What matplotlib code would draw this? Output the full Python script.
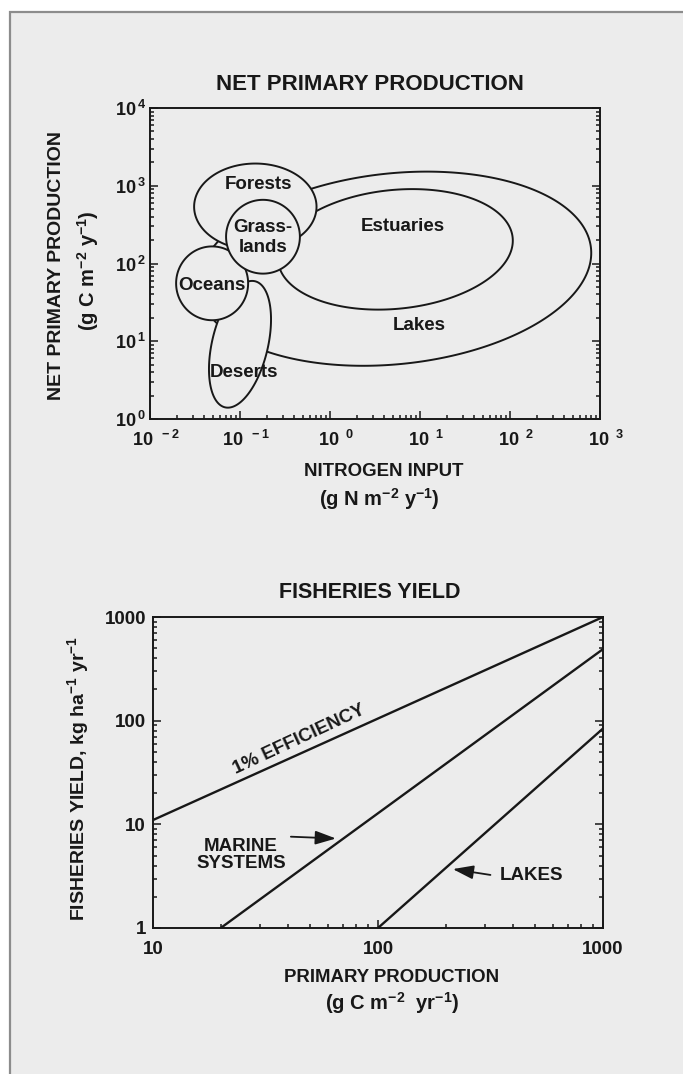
import numpy as np
import matplotlib.pyplot as plt
from matplotlib.patches import Rectangle
from matplotlib.transforms import ScaledTranslation

plt.rcParams['font.family'] = ['Liberation Sans', 'DejaVu Sans']
plt.rcParams['font.weight'] = 'bold'
plt.rcParams['mathtext.fontset'] = 'custom'
plt.rcParams['mathtext.rm'] = 'Liberation Sans:bold'
plt.rcParams['mathtext.it'] = 'Liberation Sans:bold'
plt.rcParams['mathtext.bf'] = 'Liberation Sans:bold'
plt.rcParams['mathtext.sf'] = 'Liberation Sans:bold'
plt.rcParams['mathtext.default'] = 'rm'

BG = '#ececec'
INK = '#181818'

# ---- net primary production vs nitrogen input: biome envelopes ----
biome_names = ['Lakes', 'Estuaries', 'Forests', 'Deserts', 'Oceans', 'Grasslands']
center_n = [5.27, 5.32, 0.148, 0.100, 0.049, 0.180]      # g N m-2 y-1
center_npp = [85.7, 152, 537, 9.14, 55.6, 221]           # g C m-2 y-1
half_major = [2.19, 1.31, 0.68, 0.72, 0.40, 0.41]        # decades (x units)
half_minor = [1.06, 0.66, 0.48, 0.31, 0.41, 0.41]        # decades (x units)
tilt_deg = [6, 5.7, 0, 76.6, 0, 0]

label_text = ['Lakes', 'Estuaries', 'Forests', 'Deserts', 'Oceans', 'Grass-\nlands']
label_n = [9.7, 6.5, 0.16, 0.11, 0.049, 0.18]
label_npp = [15.8, 298, 1023, 4.0, 52.8, 215]

npp_xticks = [1e-2, 1e-1, 1e0, 1e1, 1e2, 1e3]
npp_yticks = [1e0, 1e1, 1e2, 1e3, 1e4]

# ---- fisheries yield vs primary production ----
eff_pp = [10, 1000]
eff_yield = [11, 1000]
marine_pp = [20, 1000]
marine_yield = [1, 490]
lakes_pp = [100, 1000]
lakes_yield = [1, 84]

fy_xticks = [10, 100, 1000]
fy_xlabels = ['10', '100', '1000']
fy_yticks = [1, 10, 100, 1000]
fy_ylabels = ['1', '10', '100', '1000']

W, H = 683, 1074
fig = plt.figure(figsize=(W / 100, H / 100), dpi=100, facecolor='white')

# scanned page frame
fig.patches.append(Rectangle((10 / W, -0.02), 1.0, 1 - 12 / H + 0.02,
                             transform=fig.transFigure, facecolor=BG,
                             edgecolor='#8c8c8c', lw=1.6, zorder=-5))


def style_axes(ax, size):
    ax.set_facecolor('none')
    for s in ax.spines.values():
        s.set_linewidth(1.4)
        s.set_color(INK)
    ax.tick_params(which='both', direction='in', top=False, right=True,
                   color=INK, width=1.1, labelsize=size, labelcolor=INK)
    ax.tick_params(which='major', length=6)
    ax.tick_params(which='minor', length=3)


# ---------------- top panel ----------------
ax1 = fig.add_axes([150 / W, 1 - 419 / H, 450 / W, 311 / H])
ax1.set_xscale('log')
ax1.set_yscale('log')
ax1.set_xlim(1e-2, 1e3)
ax1.set_ylim(1e0, 1e4)
style_axes(ax1, 13)
ax1.tick_params(axis='x', which='major', pad=8)
ax1.tick_params(axis='y', which='major', pad=3)
ax1.set_xticks(npp_xticks, labels=[r'$10^{\ \ %d}$' % int(np.log10(v)) for v in npp_xticks])
ax1.set_yticks(npp_yticks, labels=[r'$10^{\,%d}$' % int(np.log10(v)) for v in npp_yticks])
for lab in ax1.get_xticklabels():
    lab.set_transform(lab.get_transform() + ScaledTranslation(0.06, 0, fig.dpi_scale_trans))
ax1.xaxis.set_minor_formatter(plt.NullFormatter())
ax1.yaxis.set_minor_formatter(plt.NullFormatter())

# ratio of pixels per y-decade to pixels per x-decade
k = (311 / 4) / (450 / 5)
t = np.linspace(0, 2 * np.pi, 400)
for i, name in enumerate(biome_names):
    cu = np.log10(center_n[i])
    cv = np.log10(center_npp[i]) * k
    th = np.radians(tilt_deg[i])
    a, b = half_major[i], half_minor[i]
    u = cu + a * np.cos(t) * np.cos(th) - b * np.sin(t) * np.sin(th)
    v = cv + a * np.cos(t) * np.sin(th) + b * np.sin(t) * np.cos(th)
    ax1.fill(10 ** u, 10 ** (v / k), facecolor=BG, edgecolor=INK, lw=1.4,
             zorder=2 + i)

for txt, xn, yn in zip(label_text, label_n, label_npp):
    ax1.text(xn, yn, txt, ha='center', va='center', fontsize=13.5,
             color=INK, linespacing=1.2, zorder=20)

fig.text(370 / W, 1 - 85 / H, 'NET PRIMARY PRODUCTION', ha='center',
         va='center', fontsize=16, color=INK)
fig.text(384 / W, 1 - 472 / H, 'NITROGEN INPUT', ha='center', va='center',
         fontsize=13.4, color=INK)
fig.text(379 / W, 1 - 499 / H, r'(g N m$^{-2}$ y$^{-1}$)', ha='center',
         va='center', fontsize=14.5, color=INK)
fig.text(57 / W, 1 - 265 / H, 'NET PRIMARY PRODUCTION', ha='center',
         va='center', rotation=90, fontsize=14, color=INK)
fig.text(88 / W, 1 - 271 / H, r'(g C m$^{-2}$ y$^{-1}$)', ha='center',
         va='center', rotation=90, fontsize=14.5, color=INK)

# ---------------- bottom panel ----------------
ax2 = fig.add_axes([153 / W, 1 - 928 / H, 450 / W, 311 / H])
ax2.set_xscale('log')
ax2.set_yscale('log')
ax2.set_xlim(10, 1000)
ax2.set_ylim(1, 1000)
style_axes(ax2, 13.5)
ax2.tick_params(axis='x', which='major', pad=9)
ax2.tick_params(axis='y', which='major', pad=5)
ax2.set_xticks(fy_xticks, labels=fy_xlabels)
ax2.set_yticks(fy_yticks, labels=fy_ylabels)
ax2.xaxis.set_minor_formatter(plt.NullFormatter())
ax2.yaxis.set_minor_formatter(plt.NullFormatter())

ax2.plot(eff_pp, eff_yield, color=INK, lw=1.7)
ax2.plot(marine_pp, marine_yield, color=INK, lw=1.7)
ax2.plot(lakes_pp, lakes_yield, color=INK, lw=1.7)

ax2.text(44.6, 65, '1% EFFICIENCY', rotation=25, ha='center', va='center',
         fontsize=13.5, color=INK)
ax2.text(24.6, 5.06, 'MARINE\nSYSTEMS', ha='center', va='center',
         fontsize=13.5, color=INK, linespacing=1.05)
ax2.text(479, 3.24, 'LAKES', ha='center', va='center', fontsize=13.5, color=INK)

arrow = dict(arrowstyle='-|>,head_length=0.9,head_width=0.3', color=INK,
             lw=1.3, mutation_scale=14, shrinkA=0, shrinkB=0)
ax2.annotate('', xy=(65, 7.3), xytext=(41, 7.6), arrowprops=arrow)
ax2.annotate('', xy=(215, 3.7), xytext=(316, 3.25), arrowprops=arrow)

fig.text(370 / W, 1 - 592 / H, 'FISHERIES YIELD', ha='center', va='center',
         fontsize=15.5, color=INK)
fig.text(392 / W, 1 - 977 / H, 'PRIMARY PRODUCTION', ha='center',
         va='center', fontsize=13.4, color=INK)
fig.text(392 / W, 1 - 1003 / H, r'(g C m$^{-2}$  yr$^{-1}$)', ha='center',
         va='center', fontsize=14.5, color=INK)
fig.text(78 / W, 1 - 778 / H, r'FISHERIES YIELD, kg ha$^{-1}$ yr$^{-1}$',
         ha='center', va='center', rotation=90, fontsize=14, color=INK)

fig.savefig('out.png', dpi=100, facecolor='white')
